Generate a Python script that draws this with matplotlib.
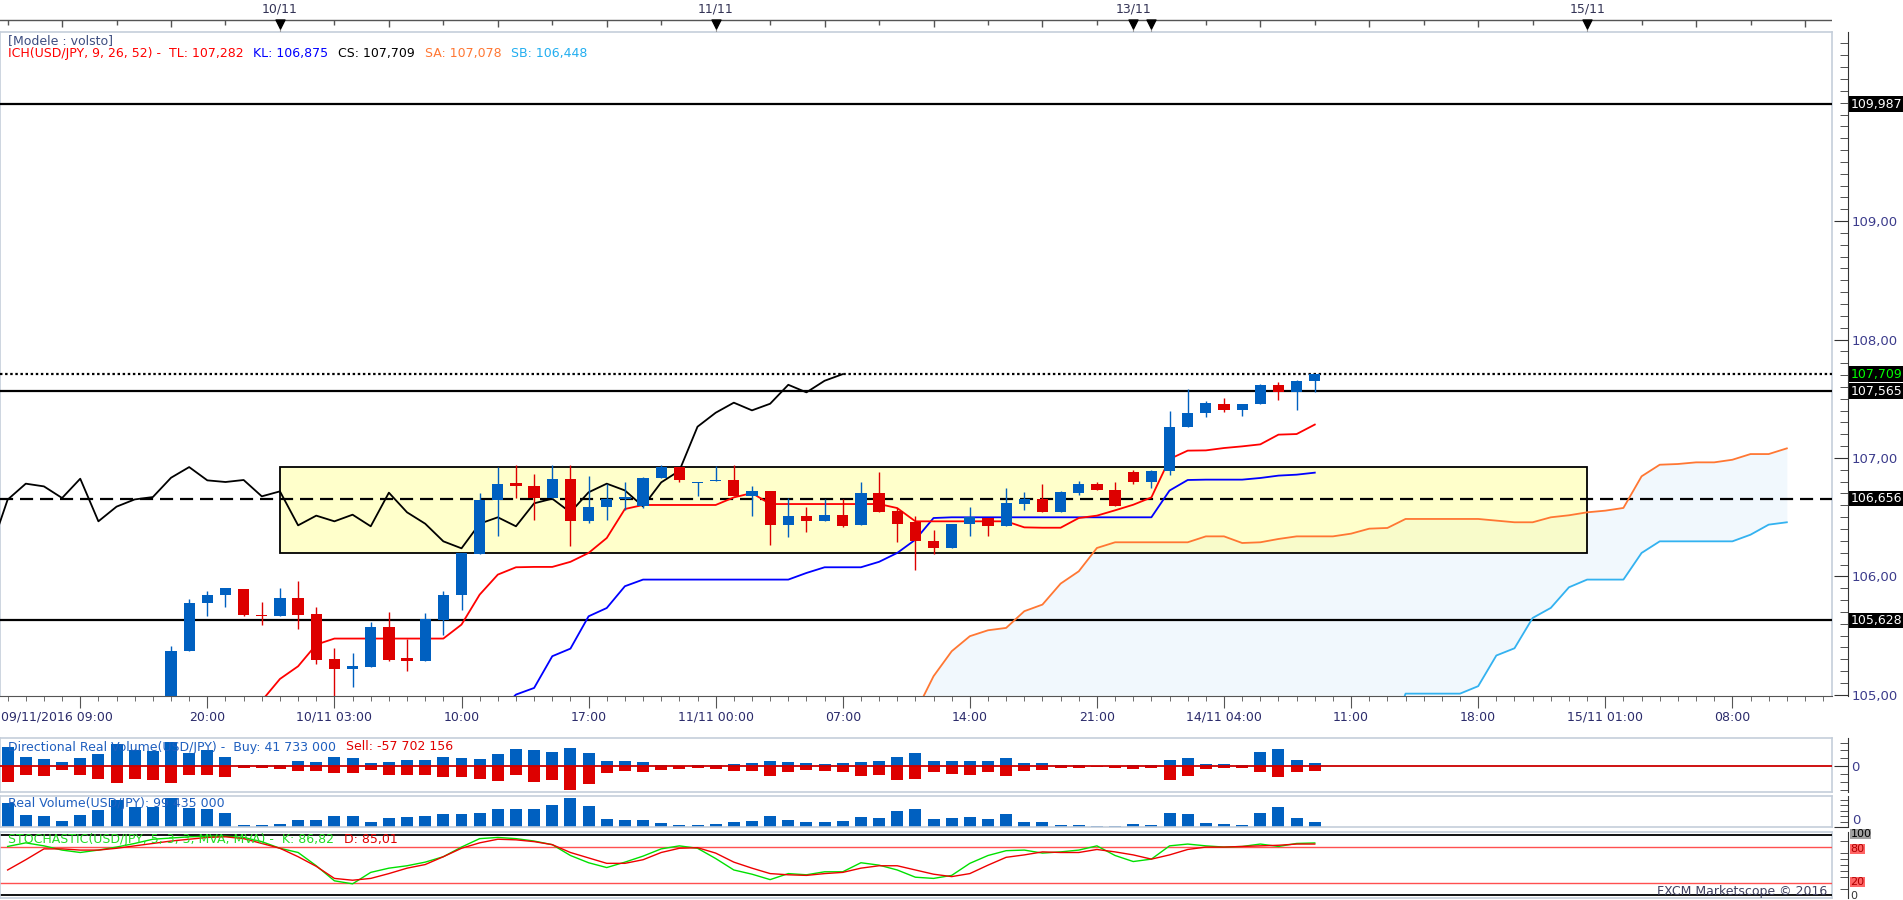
import matplotlib
matplotlib.use("Agg")
import matplotlib.pyplot as plt
import matplotlib.transforms as mtransforms
from matplotlib.patches import Rectangle
from matplotlib.ticker import FixedLocator, MultipleLocator, FuncFormatter, NullFormatter

plt.rcParams['font.family'] = ['DejaVu Sans']

W, H = 1903, 900

# ---- hourly candles, x = bar index counted from 09/11/2016 09:00 ----
bar_t = list(range(9, 73))
opens = [104.85, 105.368, 105.773, 105.840, 105.897, 105.674, 105.663, 105.821, 105.686, 105.306,
         105.222, 105.238, 105.576, 105.312, 105.283, 105.629, 105.840, 106.186, 106.642, 106.791,
         106.766, 106.662, 106.825, 106.465, 106.583, 106.653, 106.591, 106.828, 106.923, 106.789,
         106.806, 106.816, 106.676, 106.718, 106.431, 106.513, 106.465, 106.521, 106.431, 106.707,
         106.549, 106.456, 106.302, 106.237, 106.440, 106.490, 106.423, 106.608, 106.656, 106.541,
         106.701, 106.783, 106.732, 106.884, 106.794, 106.887, 107.258, 107.377, 107.458, 107.402,
         107.453, 107.618, 107.554, 107.647]
highs = [105.416, 105.812, 105.874, 105.905, 105.897, 105.784, 105.905, 105.964, 105.745, 105.396,
         105.357, 105.618, 105.703, 105.475, 105.694, 105.874, 106.198, 106.707, 106.923, 106.943,
         106.867, 106.943, 106.943, 106.850, 106.780, 106.797, 106.842, 106.943, 106.923, 106.800,
         106.929, 106.940, 106.766, 106.718, 106.665, 106.589, 106.650, 106.650, 106.800, 106.878,
         106.577, 106.513, 106.395, 106.445, 106.589, 106.490, 106.746, 106.715, 106.777, 106.718,
         106.802, 106.794, 106.800, 106.901, 106.901, 107.399, 107.585, 107.483, 107.509, 107.458,
         107.624, 107.644, 107.658, 107.709]
lows = [104.80, 105.368, 105.663, 105.739, 105.663, 105.587, 105.663, 105.559, 105.264, 104.980,
        105.070, 105.238, 105.289, 105.199, 105.283, 105.503, 105.719, 106.186, 106.338, 106.662,
        106.479, 106.662, 106.259, 106.451, 106.479, 106.563, 106.575, 106.828, 106.800, 106.676,
        106.803, 106.676, 106.507, 106.268, 106.330, 106.372, 106.465, 106.414, 106.431, 106.541,
        106.288, 106.051, 106.189, 106.237, 106.338, 106.338, 106.423, 106.563, 106.541, 106.541,
        106.690, 106.726, 106.591, 106.777, 106.743, 106.853, 107.258, 107.343, 107.385, 107.351,
        107.453, 107.486, 107.402, 107.554]
closes = [105.373, 105.776, 105.846, 105.905, 105.672, 105.668, 105.821, 105.672, 105.297, 105.222,
          105.244, 105.576, 105.297, 105.283, 105.643, 105.846, 106.198, 106.648, 106.783, 106.760,
          106.662, 106.825, 106.465, 106.589, 106.650, 106.670, 106.833, 106.923, 106.811, 106.797,
          106.814, 106.676, 106.718, 106.431, 106.513, 106.465, 106.521, 106.423, 106.707, 106.541,
          106.445, 106.296, 106.237, 106.445, 106.499, 106.423, 106.617, 106.656, 106.541, 106.710,
          106.783, 106.726, 106.591, 106.794, 106.892, 107.264, 107.382, 107.467, 107.402, 107.458,
          107.618, 107.554, 107.652, 107.708]

# ---- ichimoku lines ----
tenkan_t = list(range(14, 73))
tenkan = [104.95, 105.134, 105.241, 105.424, 105.475, 105.475, 105.475, 105.475, 105.475, 105.475,
          105.475, 105.593, 105.846, 106.015, 106.077, 106.080, 106.080, 106.123, 106.198, 106.324,
          106.569, 106.603, 106.603, 106.603, 106.603, 106.603, 106.667, 106.704, 106.611, 106.611,
          106.611, 106.611, 106.611, 106.611, 106.611, 106.577, 106.465, 106.465, 106.465, 106.465,
          106.465, 106.465, 106.414, 106.411, 106.411, 106.493, 106.513, 106.558, 106.605, 106.667,
          106.991, 107.062, 107.064, 107.084, 107.098, 107.115, 107.197, 107.202, 107.282]
kijun_t = list(range(27, 73))
kijun = [104.85, 105.002, 105.058, 105.326, 105.390, 105.663, 105.733, 105.917, 105.973, 105.973,
         105.973, 105.973, 105.973, 105.973, 105.973, 105.973, 105.973, 106.029, 106.077, 106.077,
         106.077, 106.123, 106.198, 106.310, 106.493, 106.499, 106.499, 106.499, 106.499, 106.499,
         106.499, 106.499, 106.499, 106.499, 106.499, 106.499, 106.499, 106.725, 106.814, 106.817,
         106.817, 106.817, 106.831, 106.851, 106.859, 106.876]
senkou_t = list(range(50, 99))
senkou_a = [104.85, 105.157, 105.368, 105.495, 105.545, 105.565, 105.706, 105.762, 105.939, 106.043,
            106.240, 106.288, 106.288, 106.288, 106.288, 106.288, 106.338, 106.338, 106.282, 106.288,
            106.316, 106.338, 106.338, 106.338, 106.361, 106.403, 106.409, 106.485, 106.485, 106.485,
            106.485, 106.485, 106.471, 106.457, 106.457, 106.499, 106.516, 106.541, 106.555, 106.578,
            106.845, 106.943, 106.949, 106.963, 106.963, 106.985, 107.033, 107.033, 107.081]
senkou_b = [104.60, 104.60, 104.60, 104.60, 104.60, 104.60, 104.60, 104.60, 104.60, 104.60,
            104.60, 104.60, 104.60, 104.60, 104.60, 104.60, 104.60, 104.60, 104.60, 104.60,
            104.60, 104.60, 104.60, 104.60, 104.60, 104.60, 104.60, 105.01, 105.01, 105.01,
            105.01, 105.073, 105.332, 105.393, 105.649, 105.734, 105.908, 105.973, 105.973, 105.973,
            106.198, 106.296, 106.296, 106.296, 106.296, 106.296, 106.352, 106.437, 106.457]
chikou_shift = 26

# ---- drawn objects ----
level_values = [109.987, 107.709, 107.565, 106.656, 105.628]
level_labels = ['109,987', '107,709', '107,565', '106,656', '105,628']
zone_t = [15, 87]
zone_price = [106.198, 106.923]

# ---- lower panels (millions for volumes) ----
vol_t = list(range(0, 73))
drv_buy = [244, 118, 92, 55, 105, 155, 281, 206, 197, 311, 168, 206, 118, 13, 13, 13, 67, 55, 118, 105,
           42, 55, 80, 80, 118, 105, 92, 155, 218, 206, 181, 231, 168, 67, 67, 55, 17, 4, 17, 17,
           29, 42, 67, 55, 42, 29, 42, 55, 67, 118, 168, 67, 67, 67, 67, 105, 42, 42, 17, 17,
           2, 2, 17, 17, 80, 105, 29, 29, 17, 181, 218, 80, 42]
drv_sell = [-193, -105, -122, -42, -105, -155, -206, -155, -168, -206, -105, -105, -134, -17, -17, -29, -55, -55, -80, -80,
            -42, -105, -105, -105, -134, -134, -155, -181, -105, -193, -168, -294, -218, -80, -55, -67, -42, -29, -17, -29,
            -55, -55, -118, -67, -42, -55, -67, -118, -105, -168, -155, -67, -92, -105, -67, -118, -55, -42, -17, -17,
            -4, -17, -29, -17, -168, -118, -29, -17, -17, -67, -130, -67, -58]
real_vol = [438, 222, 204, 114, 222, 312, 492, 366, 366, 528, 348, 330, 258, 42, 42, 60, 132, 132, 204, 204,
            96, 168, 186, 204, 240, 240, 258, 330, 330, 330, 402, 528, 384, 150, 132, 132, 78, 42, 42, 60,
            96, 114, 204, 132, 96, 96, 114, 186, 168, 294, 330, 150, 168, 186, 150, 240, 96, 96, 42, 42,
            24, 24, 60, 42, 258, 240, 78, 60, 42, 258, 366, 168, 99]
stoch_k = [81, 87, 82, 75, 71, 75, 80, 86, 93, 95, 97, 98, 98, 96, 89, 78, 71, 49, 24, 19,
           38, 45, 49, 55, 64, 80, 94, 96, 94, 90, 84, 66, 54, 46, 55, 65, 77, 82, 78, 61,
           42, 35, 26, 36, 34, 39, 39, 54, 50, 42, 30, 28, 33, 53, 66, 74, 75, 70, 72, 75,
           82, 66, 56, 60, 82, 85, 82, 80, 81, 85, 81, 86, 86.8]
stoch_d = [42, 59, 77, 77, 75, 75, 78, 82, 86, 90, 93, 96, 97, 94, 86, 78, 64, 48, 28, 25,
           28, 36, 45, 51, 64, 78, 87, 93, 92, 89, 84, 71, 62, 53, 53, 59, 71, 78, 79, 70,
           55, 45, 36, 34, 33, 36, 38, 45, 49, 49, 42, 35, 31, 36, 50, 63, 67, 72, 71, 71,
           76, 72, 67, 60, 67, 76, 80, 80, 81, 82, 83, 85, 85]
stoch_levels = [100, 80, 20, 0]

# ---- axis labels ----
top_date_t = [15, 39, 62, 63, 87]
top_label_t = [15, 39, 62, 87]
top_labels = ['10/11', '11/11', '13/11', '15/11']
xtick_t = [4, 11, 18, 25, 32, 39, 46, 53, 60, 67, 74, 81, 88, 95]
xtick_labels = ['', '20:00', '10/11 03:00', '10:00', '17:00', '11/11 00:00', '07:00', '14:00',
                '21:00', '14/11 04:00', '11:00', '18:00', '15/11 01:00', '08:00']
price_ticks = [105, 106, 107, 108, 109]

BLUE = '#0060C0'
RED = '#DD0000'
FRAME = '#C5CEDA'
AXTXT = '#3C3C8C'
xlim = (-0.42, 100.51)
SPINE_OUT = 11.5   # points, puts the scale line at ~1848 px
BADGE_X = 1850 / 1832


def px_rect(x0, y0, x1, y1):
    return [x0 / W, 1 - y1 / H, (x1 - x0) / W, (y1 - y0) / H]


def style_panel(a):
    a.set_xlim(*xlim)
    for s in ['top', 'bottom', 'left']:
        a.spines[s].set_color(FRAME)
        a.spines[s].set_linewidth(1.2)
    a.spines['right'].set_position(('outward', SPINE_OUT))
    a.spines['right'].set_color('#333333')
    a.yaxis.tick_right()
    a.tick_params(axis='x', which='both', bottom=False, labelbottom=False)
    a.tick_params(axis='y', which='both', direction='in', colors='#333333',
                  labelcolor=AXTXT, labelsize=9.5, pad=2)
    a.tick_params(axis='y', which='major', length=10)
    a.tick_params(axis='y', which='minor', length=6)
    a.plot([1, 1], [0, 1], transform=a.transAxes, color=FRAME, lw=1.2, clip_on=False)


def chain_texts(owner, first, parts, colors):
    # each piece starts right after the previous one, like the platform's legend line
    prev = first
    for s, c in zip(parts, colors):
        prev = owner.annotate(s, xy=(1, 0), xycoords=prev, xytext=(7, 0), textcoords='offset points',
                              va='bottom', ha='left', color=c, fontsize=9, annotation_clip=False,
                              zorder=10)


fig = plt.figure(figsize=(19.034, 9.0), dpi=100)
fig.patch.set_facecolor('white')

# ================= main price panel =================
ax = fig.add_axes(px_rect(0, 32, 1832, 696))
ax.set_xlim(*xlim)
ax.set_ylim(104.99, 110.597)

# cloud
ax.fill_between(senkou_t, senkou_a, senkou_b, color='#F1F8FD', lw=0, zorder=1)
# yellow zone
ax.add_patch(Rectangle((zone_t[0], zone_price[0]), zone_t[1] - zone_t[0], zone_price[1] - zone_price[0],
                       facecolor=(1, 1, 0.6, 0.5), edgecolor='black', lw=1.3, zorder=2))

# horizontal levels
level_styles = ['-', (0, (1.1, 1.2)), '-', (0, (5.9, 3.1)), '-']
for v, ls in zip(level_values, level_styles):
    ax.axhline(v, color='black', lw=1.6, ls=ls, zorder=3)

# ichimoku
ax.plot(senkou_t, senkou_a, color='#FF7733', lw=1.3, zorder=4)
ax.plot(senkou_t, senkou_b, color='#33B2F0', lw=1.3, zorder=4)
ax.plot(kijun_t, kijun, color='#0000FF', lw=1.3, zorder=4)
ax.plot(tenkan_t, tenkan, color='#FF0000', lw=1.3, zorder=4)
chik_t = [t - chikou_shift for t in bar_t if t >= 25]
chik_v = [c for t, c in zip(bar_t, closes) if t >= 25]
ax.plot(chik_t, chik_v, color='black', lw=1.3, zorder=4)

# candles
cols = [BLUE if c >= o else RED for o, c in zip(opens, closes)]
ax.vlines(bar_t, lows, highs, colors=cols, lw=1, zorder=5)
body_bottom = [min(o, c) for o, c in zip(opens, closes)]
body_height = [max(abs(c - o), 0.008) for o, c in zip(opens, closes)]
ax.bar(bar_t, body_height, bottom=body_bottom, width=0.62, color=cols, zorder=6)

# frame and axes
for s in ['top', 'left']:
    ax.spines[s].set_color(FRAME)
    ax.spines[s].set_linewidth(1.2)
ax.spines['bottom'].set_color('#555555')
ax.spines['right'].set_position(('outward', SPINE_OUT))
ax.spines['right'].set_color('#333333')
ax.plot([1, 1], [0, 1], transform=ax.transAxes, color=FRAME, lw=1.2, clip_on=False)

ax.yaxis.tick_right()
ax.yaxis.set_major_locator(FixedLocator(price_ticks))
ax.yaxis.set_minor_locator(MultipleLocator(0.1))
ax.yaxis.set_major_formatter(FuncFormatter(lambda v, p: f'{v:.2f}'.replace('.', ',')))
ax.tick_params(axis='y', which='both', direction='in', colors='#333333', labelcolor=AXTXT,
               labelsize=9.5, pad=2)
ax.tick_params(axis='y', which='major', length=10)
ax.tick_params(axis='y', which='minor', length=6)

ax.set_xticks(xtick_t)
ax.set_xticklabels(xtick_labels)
ax.xaxis.set_minor_locator(FixedLocator(vol_t + list(range(73, 101))))
ax.tick_params(axis='x', which='both', direction='out', colors='#555555', labelcolor='#2B2B6B',
               labelsize=9)
ax.tick_params(axis='x', which='major', length=8.5, pad=2)
ax.tick_params(axis='x', which='minor', length=3.5)
fig.text(1 / W, 1 - 717 / H, '09/11/2016 09:00', ha='left', va='center', fontsize=9, color='#2B2B6B')

# price badges
btr = mtransforms.blended_transform_factory(ax.transAxes, ax.transData)
for v, lab in zip(level_values, level_labels):
    tc = '#00FF00' if lab == '107,709' else 'white'
    ax.text(BADGE_X, v, lab, transform=btr, ha='left', va='center', fontsize=9, color=tc,
            bbox=dict(boxstyle='square,pad=0.1', fc='black', ec='none'), clip_on=False, zorder=10)

# legend texts
ax.text(8 / 1832, 1 - 9 / 664, '[Modele : volsto]', transform=ax.transAxes, ha='left', va='center',
        fontsize=9, color='#3D4D80', zorder=10)
ich_first = ax.text(8 / 1832, 1 - 22 / 664, 'ICH(USD/JPY, 9, 26, 52) -  TL: 107,282',
                    transform=ax.transAxes, ha='left', va='center', fontsize=9, color='#FF0000', zorder=10)
chain_texts(ax, ich_first, ['KL: 106,875', 'CS: 107,709', 'SA: 107,078', 'SB: 106,448'],
            ['#0000FF', 'black', '#FF7733', '#22AEF0'])

# ================= top date ruler =================
ax_top = fig.add_axes(px_rect(0, 0, 1832, 32))
ax_top.set_xlim(*xlim)
ax_top.set_ylim(32, 0)
ax_top.axis('off')
ax_top.axhline(20, color='#555555', lw=1)
ruler_t = list(range(0, 101, 3))
ax_top.vlines(ruler_t, 20, [27 if t % 6 == 3 else 24.5 for t in ruler_t], color='#555555', lw=1)
ax_top.vlines(top_date_t, 20, 32, color='#999999', lw=0.8)
ax_top.scatter(top_date_t, [23.5] * len(top_date_t), marker='v', s=42, color='black', zorder=3)
for t, lab in zip(top_label_t, top_labels):
    ax_top.text(t, 9, lab, ha='center', va='center', fontsize=9, color='#333355')

# ================= directional real volume =================
ax_drv = fig.add_axes(px_rect(0, 738, 1832, 792))
style_panel(ax_drv)
ax_drv.set_ylim(-324, 357)
ax_drv.bar(vol_t, drv_buy, width=0.66, color=BLUE, zorder=2)
ax_drv.bar(vol_t, drv_sell, width=0.66, color=RED, zorder=2)
ax_drv.axhline(0, color='#CC0000', lw=1.3, zorder=3)
ax_drv.yaxis.set_major_locator(FixedLocator([0]))
ax_drv.yaxis.set_minor_locator(FixedLocator([-300, -200, -100, 100, 200, 300]))
drv_first = ax_drv.text(8 / 1832, 1 - 9 / 54, 'Directional Real Volume(USD/JPY) -  Buy: 41 733 000',
                        transform=ax_drv.transAxes, ha='left', va='center', fontsize=9,
                        color='#1F5FBF', zorder=10)
chain_texts(ax_drv, drv_first, ['Sell: -57 702 156'], ['#E00000'])

# ================= real volume =================
ax_rv = fig.add_axes(px_rect(0, 796, 1832, 827))
style_panel(ax_rv)
ax_rv.set_ylim(0, 564)
ax_rv.bar(vol_t, real_vol, width=0.66, color=BLUE, zorder=2)
ax_rv.yaxis.set_major_locator(FixedLocator([0]))
ax_rv.yaxis.set_major_formatter(NullFormatter())
ax_rv.yaxis.set_minor_locator(FixedLocator([100, 200, 300, 400, 500]))
rtr = mtransforms.blended_transform_factory(ax_rv.transAxes, ax_rv.transData)
ax_rv.text(1852 / 1832, 0, '0', transform=rtr, ha='left', va='bottom', fontsize=9.5,
           color=AXTXT, clip_on=False)
ax_rv.text(8 / 1832, 1 - 8 / 31, 'Real Volume(USD/JPY): 99 435 000', transform=ax_rv.transAxes,
           ha='left', va='center', fontsize=9, color='#1F5FBF', zorder=10)

# ================= stochastic =================
ax_st = fig.add_axes(px_rect(0, 832, 1832, 898))
style_panel(ax_st)
ax_st.set_ylim(-4.5, 105)
ax_st.axhline(stoch_levels[0], color='black', lw=1.3)
ax_st.axhline(stoch_levels[3], color='black', lw=1.3)
ax_st.axhline(stoch_levels[1], color='#FF5050', lw=1)
ax_st.axhline(stoch_levels[2], color='#FF5050', lw=1)
ax_st.plot(vol_t, stoch_k, color='#00E000', lw=1, zorder=3)
ax_st.plot(vol_t, stoch_d, color='#EE0000', lw=1, zorder=3)
ax_st.yaxis.set_major_locator(FixedLocator([]))
ax_st.yaxis.set_minor_locator(FixedLocator([10, 30, 40, 50, 60, 70, 90]))
ax_st.yaxis.set_minor_formatter(NullFormatter())
str_ = mtransforms.blended_transform_factory(ax_st.transAxes, ax_st.transData)
badge_style = [('black', '#A0A0A0'), ('#B00000', '#FF6464'), ('#B00000', '#FF6464'), ('#333333', 'none')]
badge_nudge = [2.5, -2.5, 2, -1.5]
for v, (tc, bc), dv in zip(stoch_levels, badge_style, badge_nudge):
    ax_st.text(BADGE_X, v + dv, str(v), transform=str_, ha='left', va='center', fontsize=8, color=tc,
               bbox=dict(boxstyle='square,pad=0.0', fc=bc, ec='none'), clip_on=False, zorder=10)
st_first = ax_st.text(8 / 1832, 1 - 7 / 66, 'STOCHASTIC(USD/JPY, 5, 3, 3, MVA, MVA) -  K: 86,82',
                      transform=ax_st.transAxes, ha='left', va='center', fontsize=9,
                      color='#22DD22', zorder=10)
chain_texts(ax_st, st_first, ['D: 85,01'], ['#E00000'])
ax_st.text(1827 / 1832, 1 - 60 / 66, 'FXCM Marketscope \u00a9 2016', transform=ax_st.transAxes,
           ha='right', va='center', fontsize=9, color='#404060', zorder=10)

fig.savefig('out.png', dpi=100, facecolor='white')
